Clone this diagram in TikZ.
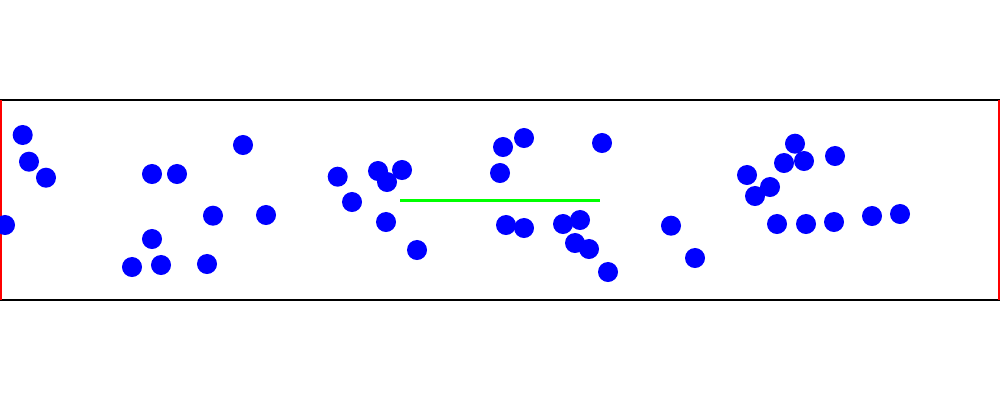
\documentclass[tikz,border=0pt]{standalone}
\begin{document}
\begin{tikzpicture}[x=0.01cm, y=-0.01cm, line width=0.6pt]
\useasboundingbox (0,0) rectangle (1000,400);
% Paredes
\draw[black] (0,100) -- (1000,100);
\draw[black] (0,300) -- (1000,300);
\draw[red] (1,100) -- (1,300);
\draw[red] (999,100) -- (999,300);
% Particulas
\foreach \px/\py in {22.7/135, 29/161.7, 46/177.7, 5/225, 152/174, 177/174,
  243/145, 213/215.7, 266/215, 152/239, 132/267, 161/265, 207/264,
  337.7/176.7, 352/202, 378/171, 387/182, 402/170, 386/222, 417/250,
  503/147, 524/138, 500/173, 602/143, 506/225, 524/228, 563/224, 580/220,
  575/243, 589/249, 608/272,
  671/225.7, 695/258, 795/143.7, 784/163, 804/161, 835/156, 747/175,
  770/187, 755/196, 777/224, 806/224, 834/222, 872/216, 900/214}
  \fill[blue] (\px,\py) circle[radius=0.1cm];
% Segmento
\draw[green] (400,200.5) -- (600,200.5);
\end{tikzpicture}
\end{document}
